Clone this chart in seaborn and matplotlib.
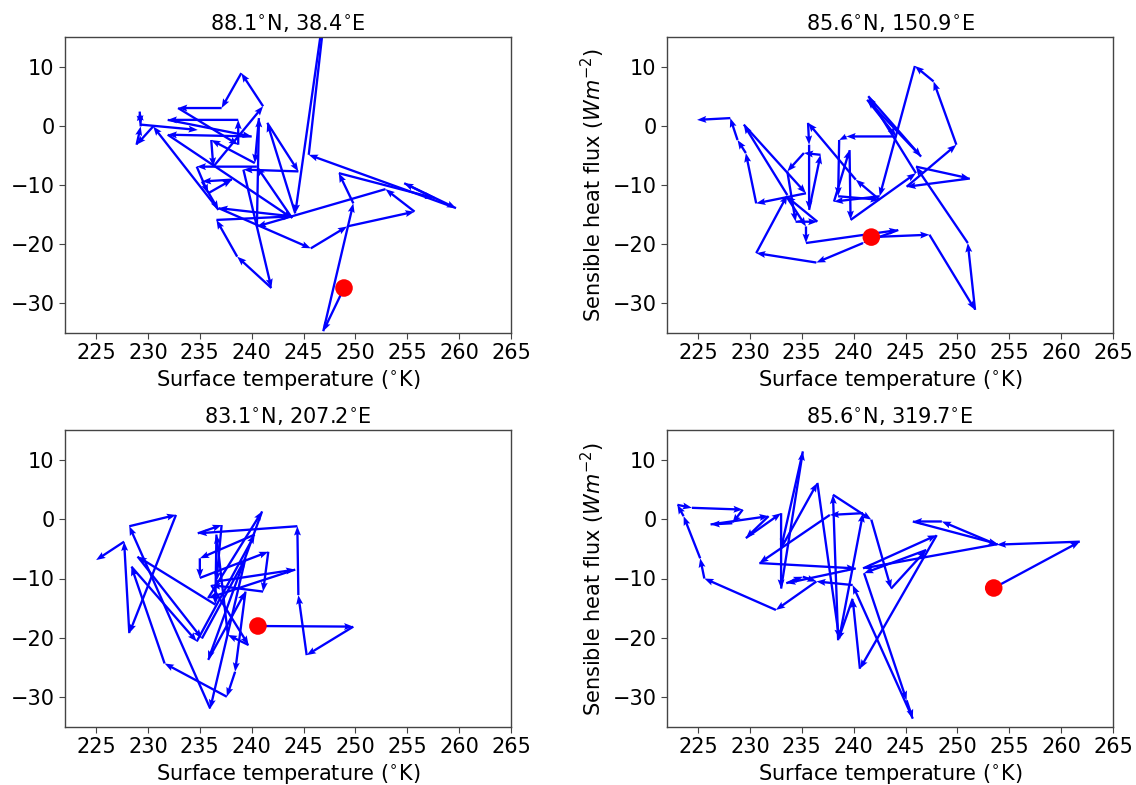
import numpy as np
import pandas as pd
import matplotlib
matplotlib.use("Agg")
import matplotlib.pyplot as plt
import seaborn as sns

titles = ["88.1$^{\\circ}$N, 38.4$^{\\circ}$E", "85.6$^{\\circ}$N, 150.9$^{\\circ}$E",
          "83.1$^{\\circ}$N, 207.2$^{\\circ}$E", "85.6$^{\\circ}$N, 319.7$^{\\circ}$E"]

tl_t = [248.9, 246.9, 249.8, 248.4, 257.6, 254.7, 259.7, 245.5, 247.4, 244.2, 241.5, 244.5, 239.2,
        241.9, 238.6, 236.6, 243.9, 236.8, 245.7, 249.2, 255.7, 252.9, 240.5, 240.7, 240.3, 236.1,
        236.3, 241.1, 239.0, 237.1, 232.9, 238.7, 238.7, 231.9, 240.0, 231.9, 243.9, 240.5, 234.7,
        235.8, 238.1, 235.2, 236.8, 230.5, 228.9, 229.3, 229.2, 229.3, 234.8]
tl_f = [-27.4, -34.7, -13.1, -8.0, -12.2, -9.7, -13.9, -4.9, 24.7, -14.8, 0.5, -7.7, -7.4,
        -27.4, -22.1, -15.9, -15.3, -13.9, -20.7, -17.0, -14.5, -10.7, -17.0, 1.3, -6.3, -2.4,
        -6.9, 3.3, 8.9, 3.0, 3.0, -3.2, 1.0, 1.0, -1.8, -1.5, -15.6, -6.9, -6.9,
        -11.4, -9.1, -9.4, -14.2, -0.1, -3.2, -0.1, 2.4, 0.2, -0.7]

tr_t = [241.7, 247.3, 251.7, 251.0, 246.0, 251.2, 245.1, 249.9, 247.7, 245.9, 242.5, 238.1, 239.6,
        239.7, 246.0, 241.4, 246.5, 241.3, 244.1, 239.3, 238.6, 238.5, 242.5, 240.2, 235.6, 235.7,
        235.7, 236.8, 235.2, 233.6, 234.4, 236.5, 233.5, 235.4, 235.4, 244.3, 240.9, 236.4, 230.6,
        233.6, 229.4, 235.4, 230.6, 229.6, 228.8, 228.1, 224.9]
tr_f = [-18.8, -18.4, -31.1, -19.8, -6.9, -8.9, -10.3, -3.2, 7.5, 10.1, -11.9, -12.8, -4.1,
        -15.9, -8.0, 5.0, -5.2, 4.4, -1.8, -1.8, -2.4, -11.9, -12.5, -9.1, 0.5, -3.2,
        -14.2, -4.9, -4.6, -7.7, -16.2, -16.2, -11.9, -17.0, -19.8, -17.6, -19.8, -23.1, -21.5,
        -11.7, 0.2, -11.4, -13.1, -4.6, -2.4, 1.3, 1.0]

bl_t = [240.6, 249.8, 245.3, 244.5, 244.4, 234.8, 237.1, 236.6, 244.2, 235.8, 241.0, 235.8, 239.4,
        238.4, 237.6, 231.6, 228.4, 234.7, 240.3, 235.0, 235.0, 241.6, 241.1, 236.1, 239.7, 237.7,
        236.6, 236.5, 229.0, 235.2, 239.4, 236.0, 228.2, 232.7, 228.2, 227.7, 225.0]
bl_f = [-18.0, -18.1, -22.9, -12.8, -1.2, -2.4, -1.0, -10.5, -8.5, -13.3, 1.3, -23.7, -12.2,
        -25.7, -29.9, -24.3, -8.0, -20.6, -2.6, -6.6, -9.9, -5.5, -12.2, -11.1, -21.2, -19.5,
        -2.6, -14.4, -6.3, -20.1, -6.6, -31.9, -1.2, 0.7, -19.2, -3.8, -6.9]

br_t = [253.5, 261.8, 253.8, 248.5, 245.7, 253.9, 240.9, 248.0, 240.6, 239.9, 238.5, 238.0, 241.7,
        243.6, 247.0, 241.0, 245.1, 245.7, 239.9, 236.4, 232.5, 225.6, 225.2, 223.6, 223.0, 224.4,
        229.3, 228.3, 226.2, 231.8, 229.6, 233.0, 233.0, 235.1, 233.0, 236.5, 238.6, 240.9, 237.7,
        230.9, 240.2, 233.5, 235.1, 236.4]
br_f = [-11.6, -3.8, -4.3, -0.4, -0.4, -4.2, -8.3, -2.7, -25.2, -13.4, -20.4, 4.1, -0.1,
        -11.7, -5.2, -9.1, -30.5, -33.6, -11.1, -10.5, -15.3, -10.0, -6.6, 0.5, 2.4, 1.9,
        1.6, -0.7, -0.9, 0.5, -3.2, 1.0, -11.7, 11.4, -4.9, 6.1, -20.1, 1.0, 0.7,
        -7.4, -8.3, -10.8, -9.7, -10.5]

series = [(tl_t, tl_f), (tr_t, tr_f), (bl_t, bl_f), (br_t, br_f)]

sns.set_style("ticks")
plt.rcParams['font.family'] = ['DejaVu Sans']
plt.rcParams['axes.edgecolor'] = '#444444'
plt.rcParams['text.color'] = 'black'
plt.rcParams['axes.labelcolor'] = 'black'
plt.rcParams['xtick.color'] = '#444444'
plt.rcParams['ytick.color'] = '#444444'
plt.rcParams['xtick.labelcolor'] = 'black'
plt.rcParams['ytick.labelcolor'] = 'black'

fig = plt.figure(figsize=(11.36, 7.85), dpi=100)
positions = [
    [65/1136, 1-333/785, 446/1136, 296/785],
    [667/1136, 1-333/785, 446/1136, 296/785],
    [65/1136, 1-727/785, 446/1136, 297/785],
    [667/1136, 1-727/785, 446/1136, 297/785],
]
FS = 15

for i, ((t, f), pos, title) in enumerate(zip(series, positions, titles)):
    ax = fig.add_axes(pos)
    t = np.array(t); f = np.array(f)
    ax.quiver(t[:-1], f[:-1], np.diff(t), np.diff(f), angles='xy', scale_units='xy', scale=1,
              color='blue', width=0.0052, headwidth=3.0, headlength=4.0, headaxislength=3.5,
              zorder=2)
    start = pd.DataFrame({"t": t[:1], "f": f[:1]})
    sns.scatterplot(data=start, x="t", y="f", ax=ax, color='red', s=160, edgecolor='none', zorder=3)
    ax.set_xlim(222, 265)
    ax.set_ylim(-35, 15)
    ax.set_xticks(np.arange(225, 266, 5))
    ax.set_yticks([-30, -20, -10, 0, 10])
    ax.tick_params(labelsize=FS, length=4)
    ax.set_title(title, fontsize=FS, pad=5)
    ax.set_xlabel("Surface temperature ($^{\\circ}$K)", fontsize=FS, labelpad=3)
    if i % 2 == 1:
        ax.set_ylabel("Sensible heat flux ($Wm^{-2}$)", fontsize=FS)
    else:
        ax.set_ylabel("")
    for s in ax.spines.values():
        s.set_visible(True)
        s.set_linewidth(1.0)

fig.savefig("out.png", dpi=100)
